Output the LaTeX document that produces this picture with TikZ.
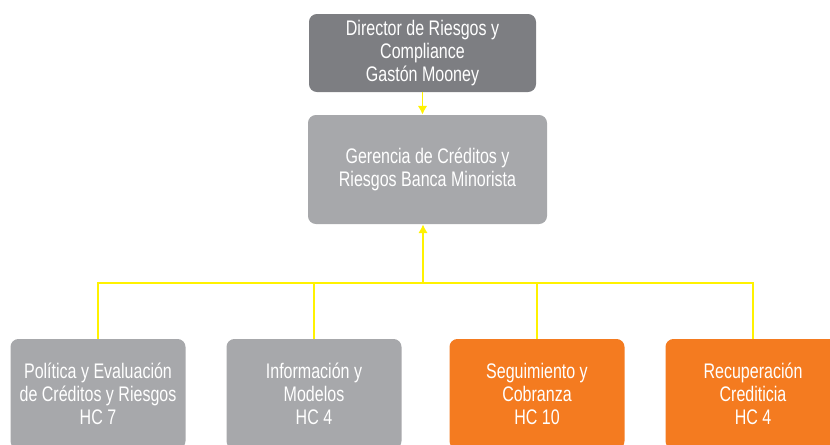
\documentclass[tikz,border=0pt]{standalone}
\usepackage{fontspec}
\setmainfont{Liberation Sans}[FakeStretch=0.76]
\usepackage{tikz}
\usetikzlibrary{arrows.meta}
\definecolor{darkbox}{HTML}{7D7E82}
\definecolor{lightbox}{HTML}{A7A8AB}
\definecolor{orangebox}{HTML}{F47B20}
\definecolor{linkyellow}{HTML}{FFF200}
\tikzset{
  unit/.style = {rounded corners=4.5pt, text=white, align=center,
                 font=\fontsize{12}{13.1}\selectfont, inner sep=0pt},
  link/.style = {linkyellow, line width=1.1pt},
  tip/.style = {-{Latex[length=5pt,width=5.5pt]}},
}

\begin{document}
\begin{tikzpicture}
        \useasboundingbox (0,0) rectangle (16.6,8.88);
        \clip (0,0) rectangle (16.6,8.88);
        % top levels
        \node[unit, fill=darkbox, minimum width=4.54cm, minimum height=1.56cm] (dir) at (8.45,7.82)
            {Director de Riesgos y\\Compliance\\Gastón Mooney};
        \node[unit, fill=lightbox, minimum width=4.78cm, minimum height=2.18cm] (ger) at (8.55,5.49)
            {Gerencia de Créditos y\\Riesgos Banca Minorista};
        % bottom level
        \node[unit, fill=lightbox, minimum width=3.5cm, minimum height=2.2cm] (pol) at (1.96,1.0)
            {Política y Evaluación\\de Créditos y Riesgos\\HC 7};
        \node[unit, fill=lightbox, minimum width=3.5cm, minimum height=2.2cm] (inf) at (6.28,1.0)
            {Información y\\Modelos\\HC 4};
        \node[unit, fill=orangebox, minimum width=3.5cm, minimum height=2.2cm] (seg) at (10.74,1.0)
            {Seguimiento y\\Cobranza\\HC 10};
        \node[unit, fill=orangebox, minimum width=3.5cm, minimum height=2.2cm] (rec) at (15.06,1.0)
            {Recuperación\\Crediticia\\HC 4};
        % connectors
        \coordinate (bar) at (8.46,3.22);
        \draw[link, tip] (dir.south) -- (dir.south |- ger.north);
        \draw[link, tip] (bar) -- (bar |- ger.south);
        \draw[link] (pol.north) -- (pol.north |- bar) -- (rec.north |- bar) -- (rec.north);
        \draw[link] (inf.north) -- (inf.north |- bar);
        \draw[link] (seg.north) -- (seg.north |- bar);
    \end{tikzpicture}
\end{document}
